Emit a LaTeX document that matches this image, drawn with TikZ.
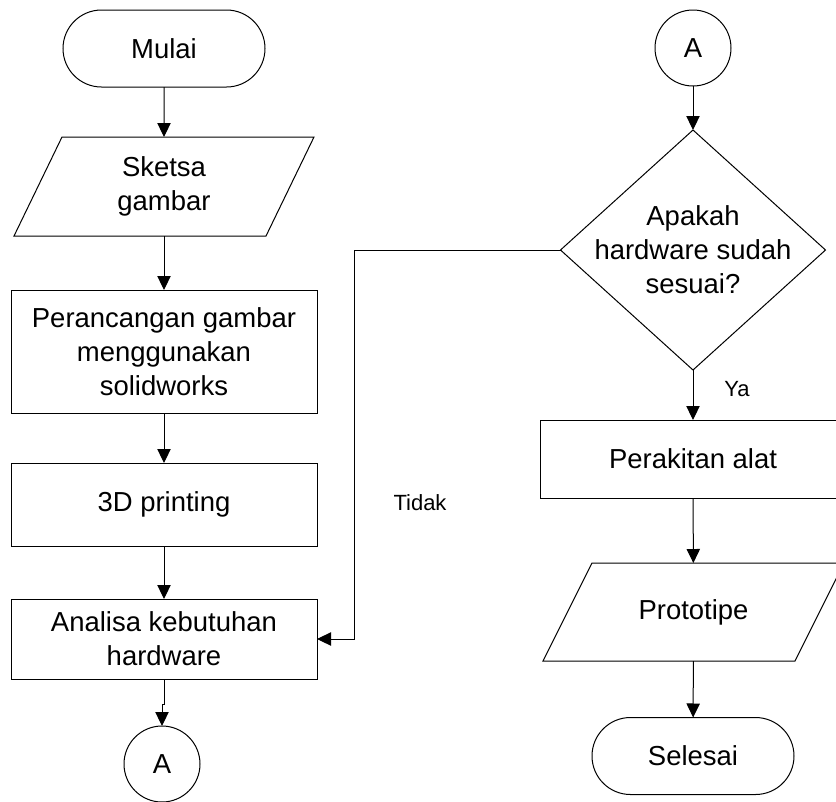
\documentclass[tikz,border=0pt]{standalone}
\usepackage{fontspec}
\setmainfont{Liberation Sans}
\usetikzlibrary{shapes.misc,shapes.geometric,arrows.meta}

\begin{document}
\begin{tikzpicture}[x=0.75pt, y=-0.75pt,
  every node/.style={inner sep=0pt, outer sep=0pt},
  main/.style={font=\fontsize{20.6}{25.5}\selectfont, align=center},
  lbl/.style={font=\fontsize{16.5}{20}\selectfont},
  line/.style={draw=black, line width=0.75pt},
  term/.style={line, rounded rectangle, minimum width=151.5pt, minimum height=57.75pt, main},
  procbox/.style={line, rectangle, minimum width=229.5pt, main},
  iobox/.style={rectangle, draw=none, main},
  conn/.style={line, circle, minimum size=57pt, main},
  arr/.style={line, -{Triangle[length=10.5pt, width=10pt]}}
]
\clip (0,0) rectangle (836,801);

% ---- left column ----
\node[term] (mulai) at (164,48.5) {Mulai};

\node[iobox, minimum width=225pt, minimum height=74.25pt] (sketsa) at (164,186.5) {Sketsa\\gambar};
\draw[line] ([xshift=36pt]sketsa.north west) -- (sketsa.north east)
  -- ([xshift=-36pt]sketsa.south east) -- (sketsa.south west) -- cycle;

\node[procbox, minimum height=92.25pt] (rancang) at (164,351.5)
  {Perancangan gambar\\menggunakan\\solidworks};
\node[procbox, minimum height=62.25pt] (print) at (164,504.5) {3D printing};
\node[procbox, minimum height=60pt] (analisa) at (164,639) {Analisa kebutuhan\\hardware};
\node[conn] (aout) at (162,764) {A};

\draw[arr] (mulai) -- (sketsa);
\draw[arr] (sketsa) -- (rancang);
\draw[arr] (rancang) -- (print);
\draw[arr] (print) -- (analisa);
\draw[arr] (analisa.south) -- ++(0,25) -| (aout.north);

% ---- right column ----
\node[conn] (ain) at (693,48) {A};
\node[line, diamond, minimum width=198.75pt, minimum height=180pt] (cek) at (693,250) {};
\node[main] (cektext) at (cek.center) {Apakah\\hardware sudah\\sesuai?};

\node[procbox, minimum height=58.5pt] (rakit) at (693,459) {Perakitan alat};

\node[iobox, minimum width=225.75pt, minimum height=73.5pt] (proto) at (693.5,612) {Prototipe};
\draw[line] ([xshift=36.75pt]proto.north west) -- (proto.north east)
  -- ([xshift=-36.75pt]proto.south east) -- (proto.south west) -- cycle;

\node[term] (selesai) at (693,756) {Selesai};

\draw[arr] (ain) -- (cek.north);
\draw[arr] (cek.south) -- (rakit);
\draw[arr] (rakit) -- (proto);
\draw[arr] (proto) -- (selesai);

\node[lbl] (ya) at (737,389) {Ya};

% ---- loop back when the hardware does not fit ----
\coordinate (bend) at (354,250);
\draw[arr] (cek.west) -- (bend) |- (analisa.east);
\node[lbl] (tidak) at (420,503) {Tidak};
\end{tikzpicture}
\end{document}
